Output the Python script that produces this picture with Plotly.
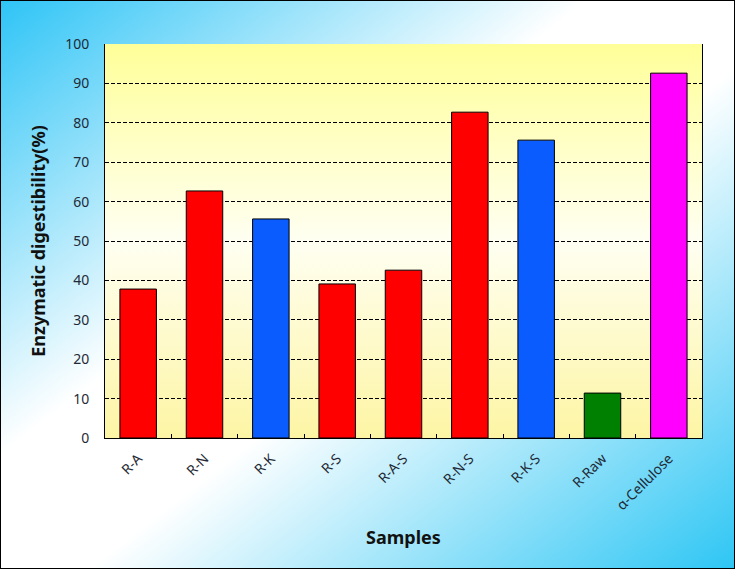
import base64
import plotly.graph_objects as go

samples = ["R-A", "R-N", "R-K", "R-S", "R-A-S", "R-N-S", "R-K-S", "R-Raw", "α-Cellulose"]
digestibility = [37.8, 62.7, 55.6, 39.1, 42.6, 82.7, 75.6, 11.4, 92.6]
bar_colors = ["#ff0000", "#ff0000", "#0a5cff", "#ff0000", "#ff0000",
              "#ff0000", "#0a5cff", "#008000", "#ff00ff"]
y_ticks = list(range(0, 101, 10))

W, H = 735, 569
ml, mr, mt, mb = 105, 33, 44, 131
pw, ph = W - ml - mr, H - mt - mb


def svg_uri(svg):
    return "data:image/svg+xml;base64," + base64.b64encode(svg.encode()).decode()


# diagonal cyan-white-cyan backdrop with thin black frame
paper_svg = f"""<svg xmlns="http://www.w3.org/2000/svg" width="{W}" height="{H}" viewBox="0 0 {W} {H}" preserveAspectRatio="none">
<defs><linearGradient id="g" x1="0" y1="0" x2="1" y2="1">
<stop offset="0" stop-color="#2ec4f6"/><stop offset="0.4" stop-color="#ffffff"/>
<stop offset="0.56" stop-color="#ffffff"/><stop offset="1" stop-color="#2ec6f4"/>
</linearGradient></defs>
<rect x="0.5" y="0.5" width="{W-1}" height="{H-1}" fill="url(#g)" stroke="#000" stroke-width="1"/>
</svg>"""

# pale yellow plot area
plot_svg = """<svg xmlns="http://www.w3.org/2000/svg" width="100" height="100" viewBox="0 0 100 100" preserveAspectRatio="none">
<defs><linearGradient id="y" x1="0" y1="0" x2="0" y2="1">
<stop offset="0" stop-color="#ffff99"/><stop offset="0.5" stop-color="#fffff2"/>
<stop offset="1" stop-color="#fdf5a4"/>
</linearGradient></defs>
<rect x="0" y="0" width="100" height="100" fill="url(#y)"/>
</svg>"""

fig = go.Figure(go.Bar(
    x=samples, y=digestibility,
    marker=dict(color=bar_colors, line=dict(color="#000", width=1)),
    width=0.55,
))

fig.update_layout(
    width=W, height=H,
    margin=dict(l=ml, r=mr, t=mt, b=mb),
    paper_bgcolor="white",
    plot_bgcolor="rgba(0,0,0,0)",
    showlegend=False,
    font=dict(family="Noto Sans, Open Sans, sans-serif", size=14, color="#1f2a36"),
    images=[
        dict(source=svg_uri(paper_svg), xref="paper", yref="paper",
             x=-ml / pw, y=1 + mt / ph, sizex=W / pw, sizey=H / ph,
             xanchor="left", yanchor="top", sizing="stretch", layer="below"),
        dict(source=svg_uri(plot_svg), xref="paper", yref="paper",
             x=0, y=1, sizex=1, sizey=1,
             xanchor="left", yanchor="top", sizing="stretch", layer="below"),
    ],
)

fig.update_xaxes(
    type="category", tickson="boundaries", ticks="inside", ticklen=4,
    tickcolor="#000", tickangle=-45, showline=True, linecolor="#000",
    linewidth=1, showgrid=False, ticklabelstandoff=6,
    title=dict(text="<b>Samples</b>", font=dict(size=18, color="#111"), standoff=18),
)
fig.update_yaxes(
    range=[0, 100], tickvals=y_ticks, ticks="inside", ticklen=3,
    tickcolor="#000", showline=True, mirror=True, linecolor="#000",
    linewidth=1, showgrid=True, gridcolor="#000", gridwidth=1,
    griddash="4px,2px", zeroline=False, ticklabelstandoff=12,
    title=dict(text="<b>Enzymatic digestibility(%)</b>",
               font=dict(size=18, color="#111"), standoff=14),
)

fig.write_html("out.html", config={"displayModeBar": False},
               post_script="document.body.style.margin='0';")
